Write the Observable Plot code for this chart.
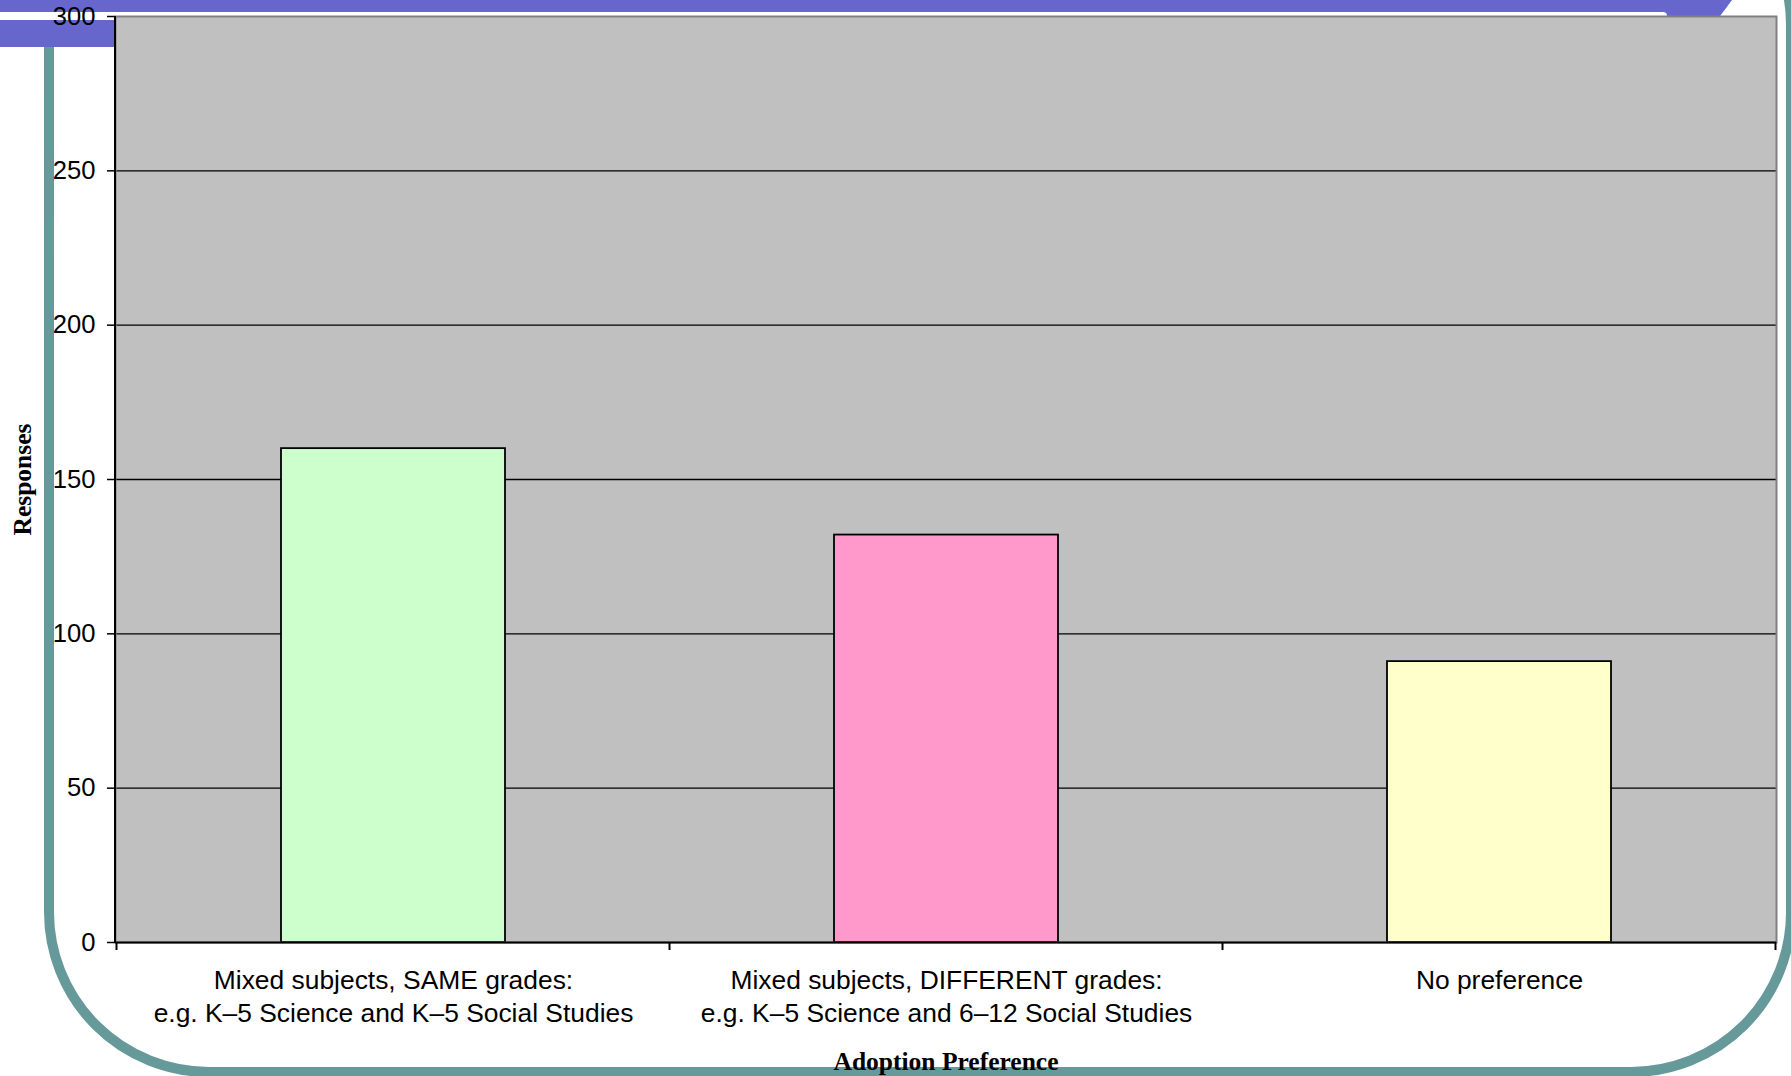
<!DOCTYPE html>
<html>
<head>
<meta charset="utf-8">
<title>Adoption Preference</title>
<script src="https://cdn.jsdelivr.net/npm/d3@7"></script>
<script src="https://cdn.jsdelivr.net/npm/@observablehq/plot@0.6"></script>
<style>
  html, body { margin: 0; padding: 0; background: #ffffff; }
  #slide { position: relative; width: 1791px; height: 1076px; overflow: hidden; background: #ffffff; }
  #slide > svg.deco { position: absolute; left: 0; top: 0; }
  #chart { position: absolute; left: 0; top: 0; }
</style>
</head>
<body>
<div id="slide">
  <!-- slide template: teal rounded frame and purple header band -->
  <svg class="deco" width="1791" height="1076">
    <rect x="49" y="-135" width="1742" height="1207" rx="160" ry="160" fill="none" stroke="#669999" stroke-width="10"/>
    <polygon points="0,0 1732,0 1697,47 0,47" fill="#6666cc"/>
    <rect x="-10" y="12" width="1677" height="8" rx="4" ry="4" fill="#ffffff"/>
  </svg>
  <div id="chart"></div>
</div>
<script>
// Survey responses by adoption preference
const categories = [
  "Mixed subjects, SAME grades",
  "Mixed subjects, DIFFERENT grades",
  "No preference"
];
const tickLabels = [
  "Mixed subjects, SAME grades:\ne.g. K–5 Science and K–5 Social Studies",
  "Mixed subjects, DIFFERENT grades:\ne.g. K–5 Science and 6–12 Social Studies",
  "No preference"
];
const responses = [160, 132, 91];
const yTicks = [0, 50, 100, 150, 200, 250, 300];
const barColors = ["#ccffcc", "#ff99cc", "#ffffcc"];

const table = categories.map((category, i) => ({category, responses: responses[i]}));
const gridValues = yTicks.filter((v) => v > 0 && v < 300);

// Left axis line plus tick marks on the category boundaries
function axisEdges(...args) {
  const modern = args.length >= 4;
  const scales = modern ? args[1] : args[0];
  const dims = modern ? args[3] : args[1];
  const {width, marginLeft, marginRight, marginTop} = dims;
  const x = scales.x;
  const y0 = scales.y(0);
  const n = categories.length;
  let edges;
  if (x && typeof x.step === "function") {
    const gap = (x.step() - x.bandwidth()) / 2;
    edges = categories.map((c) => x(c) - gap);
    edges.push(x(categories[n - 1]) + x.bandwidth() + gap);
  } else {
    const step = (width - marginLeft - marginRight) / n;
    edges = d3.range(n + 1).map((i) => marginLeft + i * step);
  }
  const g = d3.create("svg:g").attr("stroke", "black").attr("fill", "none");
  g.append("line")
    .attr("x1", marginLeft).attr("x2", marginLeft)
    .attr("y1", marginTop).attr("y2", y0)
    .attr("stroke-width", 2);
  g.selectAll(null).data(edges).join("line")
    .attr("x1", (d) => d).attr("x2", (d) => d)
    .attr("y1", y0).attr("y2", y0 + 8)
    .attr("stroke-width", 2);
  return g.node();
}

const chart = Plot.plot({
  width: 1791,
  height: 1076,
  marginLeft: 115,
  marginRight: 15,
  marginTop: 16,
  marginBottom: 134,
  style: {
    background: "transparent",
    overflow: "visible",
    fontFamily: "'Liberation Sans', Arial, sans-serif",
    fontSize: "25.6px",
    color: "black"
  },
  x: {domain: categories, paddingInner: 0.595, paddingOuter: 0.2975, axis: null, label: null},
  y: {domain: [0, 300], axis: null, label: null},
  color: {domain: categories, range: barColors},
  marks: [
    Plot.frame({fill: "#c0c0c0"}),
    Plot.ruleY(gridValues, {stroke: "black", strokeWidth: 1.4}),
    Plot.barY(table, {x: "category", y: "responses", fill: "category", stroke: "black", strokeWidth: 1.8}),
    Plot.frame({stroke: "#808080", strokeWidth: 2}),
    Plot.ruleY([0], {stroke: "black", strokeWidth: 2.2}),
    axisEdges,
    Plot.axisY({ticks: yTicks, tickSize: 8, tickPadding: 12, strokeWidth: 1.5, label: null}),
    Plot.axisX({
      tickSize: 0,
      tickPadding: 22.5,
      fontSize: 26.4,
      lineHeight: 1.265,
      tickFormat: (c) => tickLabels[categories.indexOf(c)],
      label: null
    }),
    Plot.text(["Responses"], {
      frameAnchor: "left",
      textAnchor: "middle",
      lineAnchor: "middle",
      dx: -93,
      rotate: -90,
      fontFamily: "'Liberation Serif', 'Times New Roman', serif",
      fontWeight: "bold",
      fontSize: 25.5
    }),
    Plot.text(["Adoption Preference"], {
      frameAnchor: "bottom",
      textAnchor: "middle",
      lineAnchor: "middle",
      dy: 119.5,
      fontFamily: "'Liberation Serif', 'Times New Roman', serif",
      fontWeight: "bold",
      fontSize: 25.5
    })
  ]
});

document.getElementById("chart").append(chart);
</script>
</body>
</html>
